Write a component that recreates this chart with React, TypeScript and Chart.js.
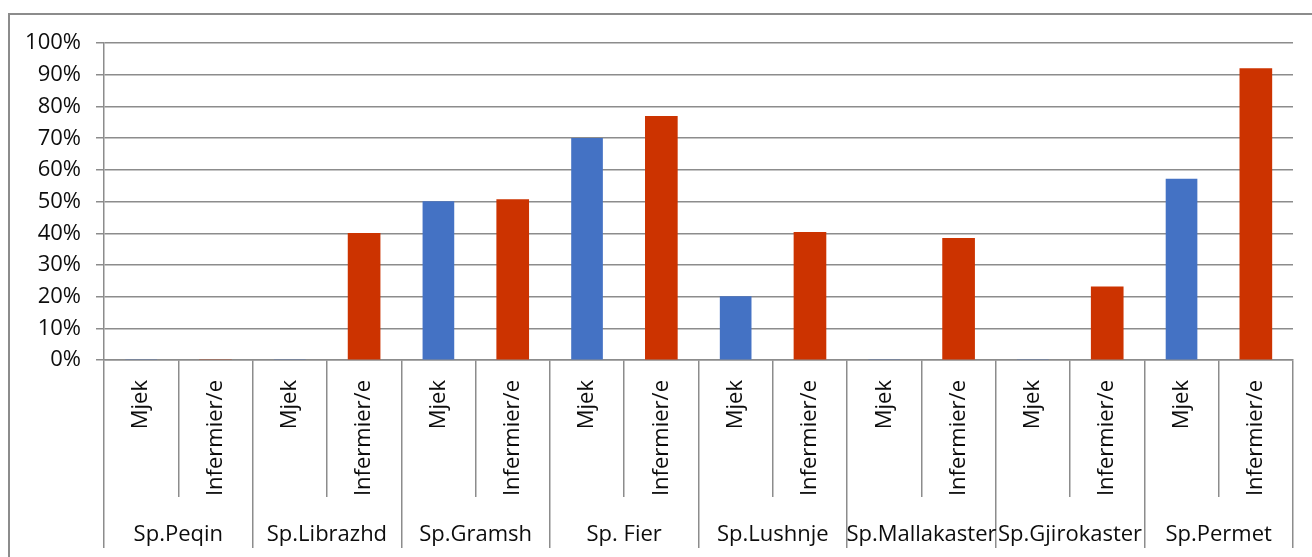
import { useEffect, useRef } from "react";
import { Chart, registerables } from "chart.js";

Chart.register(...registerables);

const hospitals = [
  "Sp.Peqin",
  "Sp.Librazhd",
  "Sp.Gramsh",
  "Sp. Fier",
  "Sp.Lushnje",
  "Sp.Mallakaster",
  "Sp.Gjirokaster",
  "Sp.Permet",
];
const roles = ["Mjek", "Infermier/e"];
const mjekValues = [0, 0, 50, 70, 20, 0, 0, 57.1];
const infermierValues = [0, 40, 50.6, 76.9, 40.3, 38.4, 23.1, 92];
const yMin = 0;
const yMax = 100;
const yStep = 10;

const categoryLabels = hospitals.flatMap(() => roles);
const mjekData = hospitals.flatMap((_, i) => [mjekValues[i], null]);
const infermierData = hospitals.flatMap((_, i) => [null, infermierValues[i]]);

export default function App() {
  const ref = useRef<HTMLCanvasElement>(null);

  useEffect(() => {
    const grey = "#8c8c8c";
    const font = { family: "'Open Sans', sans-serif", size: 22 };
    const textColor = "#0d0d0d";
    const chart = new Chart(ref.current as HTMLCanvasElement, {
      type: "bar",
      data: {
        labels: categoryLabels,
        datasets: [
          {
            label: roles[0],
            data: mjekData,
            backgroundColor: "#4472C4",
            barThickness: 31,
            skipNull: true,
          } as any,
          {
            label: roles[1],
            data: infermierData,
            backgroundColor: "#CC3300",
            barThickness: 32,
            skipNull: true,
          } as any,
        ],
      },
      options: {
        animation: false,
        responsive: false,
        layout: { padding: { top: 25, right: 19, bottom: 0, left: 0 } },
        plugins: {
          legend: { display: false },
          tooltip: { enabled: false },
        },
        datasets: { bar: { skipNull: true } },
        scales: {
          x: {
            type: "category",
            offset: true,
            weight: 0,
            grid: {
              offset: true,
              drawOnChartArea: false,
              tickLength: 137,
              color: grey,
              lineWidth: 1.5,
            },
            border: { display: true, color: grey, width: 1.5 },
            ticks: {
              autoSkip: false,
              minRotation: 90,
              maxRotation: 90,
              padding: -117,
              font,
              color: textColor,
            },
            afterFit: (s: any) => {
              s.height = 137;
            },
          },
          x2: {
            type: "category",
            labels: hospitals,
            position: "bottom",
            offset: true,
            weight: 1,
            grid: {
              offset: true,
              drawOnChartArea: false,
              tickLength: 51,
              color: grey,
              lineWidth: 1.5,
            },
            border: { display: false },
            ticks: {
              autoSkip: false,
              minRotation: 0,
              maxRotation: 0,
              padding: -26,
              font,
              color: textColor,
            },
            afterFit: (s: any) => {
              s.height = 60;
            },
          },
          y: {
            min: yMin,
            max: yMax,
            ticks: {
              stepSize: yStep,
              callback: (v: any) => `${v}%`,
              padding: 15,
              font,
              color: textColor,
            },
            grid: { color: grey, lineWidth: 1.5, tickLength: 8 },
            border: { color: grey, width: 1.5 },
            afterFit: (s: any) => {
              s.width = 94;
            },
          },
        } as any,
      },
    });
    return () => chart.destroy();
  }, []);

  return (
    <div
      style={{
        position: "fixed",
        left: 8,
        top: 13,
        width: 1304,
        height: 544,
        boxSizing: "border-box",
        borderTop: "2px solid #8c8c8c",
        borderLeft: "2px solid #8c8c8c",
        background: "#fff",
      }}
    >
      <canvas ref={ref} width={1302} height={542} style={{ display: "block" }} />
    </div>
  );
}
